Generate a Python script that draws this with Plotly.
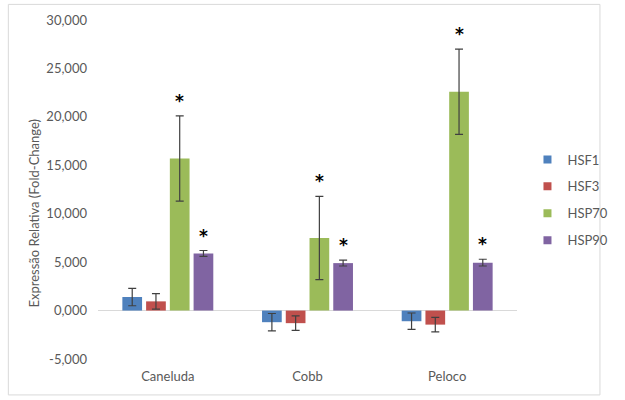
import plotly.graph_objects as go

categories = ["Caneluda", "Cobb", "Peloco"]
series_names = ["HSF1", "HSF3", "HSP70", "HSP90"]
hsf1 = [1.4, -1.2, -1.1]
hsf1_err = [0.9, 0.9, 0.85]
hsf3 = [0.95, -1.3, -1.45]
hsf3_err = [0.8, 0.75, 0.75]
hsp70 = [15.7, 7.5, 22.6]
hsp70_err = [4.4, 4.3, 4.4]
hsp90 = [5.9, 4.9, 4.95]
hsp90_err = [0.3, 0.3, 0.35]
significant = [False, False, True, True]  # per series (all categories)

ytick_vals = [-5, 0, 5, 10, 15, 20, 25, 30]
ytick_text = ["-5,000", "0,000", "5,000", "10,000", "15,000", "20,000", "25,000", "30,000"]

colors = ["#4F81BD", "#C0504D", "#9BBB59", "#8064A2"]
values = [hsf1, hsf3, hsp70, hsp90]
errors = [hsf1_err, hsf3_err, hsp70_err, hsp90_err]

FONT = "Lato"
GRAY = "#595959"
bargap = 0.32
bargroupgap = 0.17

fig = go.Figure()
for name, vals, errs, col in zip(series_names, values, errors, colors):
    fig.add_trace(go.Bar(
        x=categories, y=vals, name=name, marker_color=col,
        marker_line_width=0,
        error_y=dict(type="data", array=errs, visible=True,
                     color="#404040", thickness=1.2, width=4),
        showlegend=False,
    ))
# legend proxies with small square markers
for name, col in zip(series_names, colors):
    fig.add_trace(go.Scatter(
        x=[None], y=[None], mode="markers", name=name,
        marker=dict(symbol="square", size=8, color=col),
        legendgroup=name, showlegend=True,
    ))

n = len(series_names)
slot = (1 - bargap) / n
annotations = []
for j, (vals, errs, sig) in enumerate(zip(values, errors, significant)):
    if not sig:
        continue
    for i, (v, e) in enumerate(zip(vals, errs)):
        annotations.append(dict(
            x=i + (j - (n - 1) / 2) * slot, y=v + e, xref="x", yref="y",
            text="<b>*</b>", showarrow=False, xanchor="center",
            yanchor="bottom", yshift=3,
            font=dict(family="DejaVu Sans", size=17, color="black"),
        ))

annotations.append(dict(
    x=-0.152, y=0.43, xref="paper", yref="paper",
    xanchor="center", yanchor="middle",
    text="Expressão Relativa (Fold-Change)", textangle=-90, showarrow=False,
    font=dict(family=FONT, size=13, color=GRAY),
))

fig.update_layout(
    width=625, height=400,
    margin=dict(l=98, r=92, t=20, b=41),
    paper_bgcolor="white", plot_bgcolor="white",
    barmode="group", bargap=bargap, bargroupgap=bargroupgap,
    font=dict(family=FONT, size=13, color=GRAY),
    showlegend=True,
    legend=dict(x=1.025, y=0.469, xanchor="left", yanchor="middle",
                font=dict(family=FONT, size=13, color=GRAY),
                tracegroupgap=7, itemwidth=30, bgcolor="rgba(0,0,0,0)"),
    annotations=annotations,
    shapes=[dict(type="rect", xref="paper", yref="paper",
                 x0=-0.214, x1=1.198, y0=-0.106, y1=1.046,
                 line=dict(color="#D9D9D9", width=1), fillcolor="rgba(0,0,0,0)")],
)
fig.update_yaxes(
    range=[-5, 30], tickvals=ytick_vals, ticktext=ytick_text,
    showgrid=False, zeroline=True, zerolinecolor="#D9D9D9", zerolinewidth=1,
    showline=False, ticks="", ticklabelstandoff=10,
    tickfont=dict(family=FONT, size=13, color=GRAY),
)
fig.update_xaxes(
    showgrid=False, showline=False, ticks="", ticklabelstandoff=8,
    tickfont=dict(family=FONT, size=13, color=GRAY),
)

fig.write_html("out.html", config={"displayModeBar": False},
               post_script="document.body.style.margin='0';")
